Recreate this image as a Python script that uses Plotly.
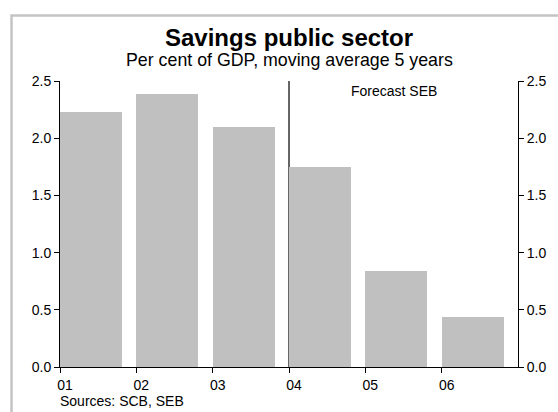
import plotly.graph_objects as go

# Data
years = ["01", "02", "03", "04", "05", "06"]
savings = [2.23, 2.39, 2.10, 1.75, 0.84, 0.44]
forecast_start = "04"
y_ticks = [0.0, 0.5, 1.0, 1.5, 2.0, 2.5]

FONT = "Liberation Sans, Arial, sans-serif"
BAR_COLOR = "#c0c0c0"

fig = go.Figure()
fig.add_trace(go.Bar(
    x=years, y=savings, marker=dict(color=BAR_COLOR, line=dict(width=0)),
    offset=0, width=0.81, hoverinfo="skip", showlegend=False,
))
# invisible trace to carry the right-hand axis
fig.add_trace(go.Scatter(
    x=years, y=savings, yaxis="y2", mode="markers",
    marker=dict(opacity=0), hoverinfo="skip", showlegend=False,
))

L, R, T, B = 60, 35, 80.5, 45
W, H = 558, 412
pw, ph = W - L - R, H - T - B
def px(x):
    return (x - L) / pw
def py(y):
    return (H - B - y) / ph

axis_common = dict(
    range=[0, 2.5], tickvals=y_ticks, tickformat=".1f",
    ticks="outside", ticklen=5, tickwidth=1, tickcolor="#000",
    showline=True, linecolor="#000", linewidth=1,
    showgrid=False, zeroline=False,
    tickfont=dict(family=FONT, size=14, color="#000"),
)

fc_idx = years.index(forecast_start)

fig.update_layout(
    width=W, height=H,
    margin=dict(l=L, r=R, t=T, b=B, pad=0),
    paper_bgcolor="white", plot_bgcolor="white",
    font=dict(family=FONT, color="#000"),
    bargap=0,
    xaxis=dict(
        type="category", range=[0, 6],
        ticks="outside", ticklen=5, tickwidth=1, tickcolor="#000",
        showline=True, linecolor="#000", linewidth=1,
        showgrid=False, zeroline=False,
        tickfont=dict(family=FONT, size=14, color="#000"),
        ticklabelshift=5,
    ),
    yaxis=dict(**axis_common, side="left"),
    yaxis2=dict(**axis_common, side="right", overlaying="y"),
    shapes=[
        dict(type="line", xref="x", yref="y", x0=fc_idx, x1=fc_idx,
             y0=0, y1=2.5, line=dict(color="#333", width=1.5), layer="below"),
        dict(type="rect", xref="paper", yref="paper",
             x0=px(11), x1=px(W + 20), y0=py(15), y1=py(H + 20),
             line=dict(color="#c4c4c4", width=2.5), layer="below"),
    ],
    annotations=[
        dict(text="<b>Savings public sector</b>", xref="paper", yref="paper",
             x=0.5, y=py(37), xanchor="center", yanchor="middle",
             showarrow=False, font=dict(family=FONT, size=24, color="#000")),
        dict(text="Per cent of GDP, moving average 5 years", xref="paper", yref="paper",
             x=0.5, y=py(59), xanchor="center", yanchor="middle",
             showarrow=False, font=dict(family=FONT, size=17.8, color="#000")),
        dict(text="Forecast SEB", xref="paper", yref="paper",
             x=px(352), y=py(91), xanchor="left", yanchor="middle",
             showarrow=False, font=dict(family=FONT, size=14, color="#000")),
        dict(text="Sources: SCB, SEB", xref="paper", yref="paper",
             x=px(58), y=py(401), xanchor="left", yanchor="middle",
             showarrow=False, font=dict(family=FONT, size=14, color="#000")),
    ],
)

fig.write_html("out.html", config={"displayModeBar": False},
               post_script="document.body.style.margin='0';")
